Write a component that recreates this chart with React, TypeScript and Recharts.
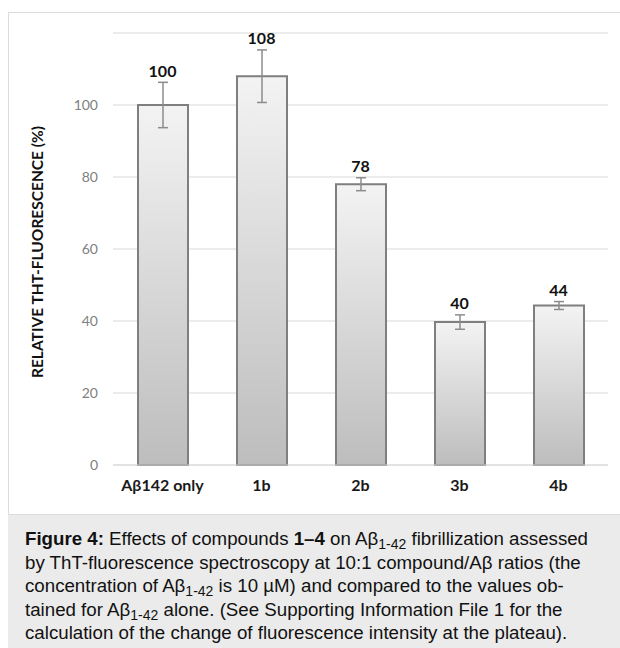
import React from 'react';
import { ComposedChart, Bar, Line, XAxis, YAxis, CartesianGrid, ErrorBar, LabelList } from 'recharts';

const categories = ['Aβ142 only', '1b', '2b', '3b', '4b'];
const values = [100, 108, 78, 39.7, 44.3];
const errors = [6.3, 7.3, 1.8, 2.0, 1.1];
const yTicks = [0, 20, 40, 60, 80, 100];

const data = categories.map((c, i) => ({
  name: c,
  value: values[i],
  err: errors[i],
  top: values[i] + errors[i],
}));

const FONT = 'Lato, "Open Sans", sans-serif';

const TopLabel = (props: any) => {
  const { x, y, index } = props;
  return (
    <text x={x} y={y - 12} textAnchor="middle" dominantBaseline="central" fontFamily={FONT} fontWeight={700} fontSize={16} fill="#111">
      {Math.round(values[index])}
    </text>
  );
};

const YLabel = (props: any) => {
  const vb = props.viewBox || {};
  const cx = (vb.x || 0) + 37;
  const cy = (vb.y || 0) + (vb.height || 0) / 2 + 3;
  return (
    <text x={cx} y={cy} transform={`rotate(-90, ${cx}, ${cy})`} textAnchor="middle" dominantBaseline="central" fontFamily={FONT} fontWeight={700} fontSize={15.5} fill="#111">
      RELATIVE THT-FLUORESCENCE (%)
    </text>
  );
};

const subStyle: React.CSSProperties = { fontSize: '14px', verticalAlign: '-4px', lineHeight: 0 };

export default function App() {
  return (
    <div style={{ position: 'relative', width: 620, height: 648, background: '#fff', overflow: 'hidden' }}>
      <style>{`html,body{margin:0;padding:0;overflow:hidden;}`}</style>
      <div style={{ position: 'absolute', left: 8, top: 12, width: 640, height: 503, border: '1px solid #dcdcdc', boxSizing: 'border-box' }} />
      <div style={{ position: 'absolute', left: 0, top: 0 }}>
        <ComposedChart width={620} height={515} data={data} margin={{ top: 33, right: 12, bottom: 20, left: 0 }} barCategoryGap={0}>
          <defs>
            <linearGradient id="barGrad" x1="0" y1="0" x2="0" y2="1">
              <stop offset="0%" stopColor="#f3f3f3" />
              <stop offset="100%" stopColor="#bdbdbd" />
            </linearGradient>
          </defs>
          <CartesianGrid horizontal vertical={false} stroke="#d9d9d9" strokeWidth={1} />
          <XAxis dataKey="name" height={30} axisLine={{ stroke: '#d9d9d9' }} tickLine={false} tickSize={0} tickMargin={15}
            tick={{ fontFamily: FONT, fontWeight: 700, fontSize: 16, fill: '#1a1a1a' }} interval={0} />
          <YAxis width={113} domain={[0, 120]} ticks={yTicks} axisLine={false} tickLine={false} tickSize={0} tickMargin={15}
            tick={{ fontFamily: FONT, fontSize: 14, fill: '#808080' }} label={<YLabel />} />
          <Bar dataKey="value" barSize={50} fill="url(#barGrad)" stroke="#7f7f7f" strokeWidth={2} isAnimationActive={false}>
            <ErrorBar dataKey="err" width={5} stroke="#8c8c8c" strokeWidth={1.5} direction="y" />
          </Bar>
          <Line dataKey="top" stroke="none" dot={false} activeDot={false} isAnimationActive={false}>
            <LabelList dataKey="top" content={<TopLabel />} />
          </Line>
        </ComposedChart>
      </div>
      <div style={{ position: 'absolute', left: 8, top: 515, width: 612, height: 133, background: '#ebebeb', boxSizing: 'border-box', padding: '12px 0 0 17px', fontFamily: '"Liberation Sans", Arial, sans-serif', fontSize: 18.7, lineHeight: '23.5px', color: '#111', whiteSpace: 'nowrap' }}>
        <div><b>Figure 4:</b> Effects of compounds <b>1–4</b> on Aβ<sub style={subStyle}>1-42</sub> fibrillization assessed</div>
        <div>by ThT-fluorescence spectroscopy at 10:1 compound/Aβ ratios (the</div>
        <div>concentration of Aβ<sub style={subStyle}>1-42</sub> is 10 µM) and compared to the values ob-</div>
        <div>tained for Aβ<sub style={subStyle}>1-42</sub> alone. (See Supporting Information File 1 for the</div>
        <div>calculation of the change of fluorescence intensity at the plateau).</div>
      </div>
    </div>
  );
}
